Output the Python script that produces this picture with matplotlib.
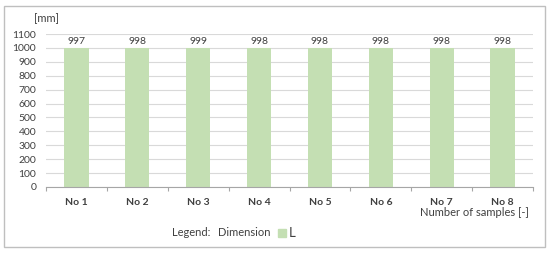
import matplotlib.pyplot as plt
from matplotlib.patches import Rectangle

# data
samples = ['No 1', 'No 2', 'No 3', 'No 4', 'No 5', 'No 6', 'No 7', 'No 8']
lengths = [997, 998, 999, 998, 998, 998, 998, 998]
y_ticks = list(range(0, 1101, 100))

plt.rcParams['font.family'] = ['Lato', 'DejaVu Sans']
bar_color = '#c4dfb3'
txt = '#404040'

fig = plt.figure(figsize=(5.5, 2.57), dpi=100)
ax = fig.add_axes([46 / 550, 1 - 187 / 257, (533 - 46) / 550, (187 - 34) / 257])

# outer frame of chart area
fig.patches.append(Rectangle((4 / 550, 1 - 247 / 257), 541 / 550, 241 / 257,
                             transform=fig.transFigure, fill=False,
                             edgecolor='#bfbfbf', lw=1.0))

x = range(len(samples))
ax.bar(x, lengths, width=0.4, color=bar_color, zorder=2)
for xi, v in zip(x, lengths):
    ax.text(xi, 1012, str(v), ha='center', va='bottom', fontsize=7.5, color=txt)

ax.set_xlim(-0.5, len(samples) - 0.5)
ax.set_ylim(0, 1100)
ax.set_yticks(y_ticks)
ax.tick_params(axis='y', length=0, labelsize=7.5, colors=txt, pad=7)
ax.set_xticks([i + 0.5 for i in range(len(samples) - 1)] + [-0.5, len(samples) - 0.5], minor=False)
ax.set_xticklabels([''] * (len(samples) + 1))
ax.tick_params(axis='x', length=3, color='#a6a6a6', direction='out')
ax.set_xticks(list(x), minor=True)
ax.set_xticklabels(samples, minor=True, fontsize=7.5, fontweight='bold', color=txt)
ax.tick_params(axis='x', which='minor', length=0, pad=8)

ax.grid(axis='y', color='#d9d9d9', lw=0.8, zorder=0)
for s in ['top', 'right', 'left']:
    ax.spines[s].set_visible(False)
ax.spines['bottom'].set_color('#a6a6a6')

fig.text(34 / 550, 1 - 19 / 257, '[mm]', fontsize=8, color=txt, ha='left', va='center')
fig.text(529 / 550, 1 - 213 / 257, 'Number of samples [-]', fontsize=8,
         color=txt, ha='right', va='center')

# legend line
ly = 1 - 233 / 257
fig.text(172 / 550, ly, 'Legend:', fontsize=8, color=txt, ha='left', va='center')
fig.text(218 / 550, ly, 'Dimension', fontsize=8, color=txt, ha='left', va='center')
fig.patches.append(Rectangle((278 / 550, 1 - 237 / 257), 8 / 550, 8 / 257,
                             transform=fig.transFigure, color=bar_color))
fig.text(289 / 550, ly, 'L', fontsize=9.5, color=txt, ha='left', va='center')

fig.savefig('out.png', dpi=100)
